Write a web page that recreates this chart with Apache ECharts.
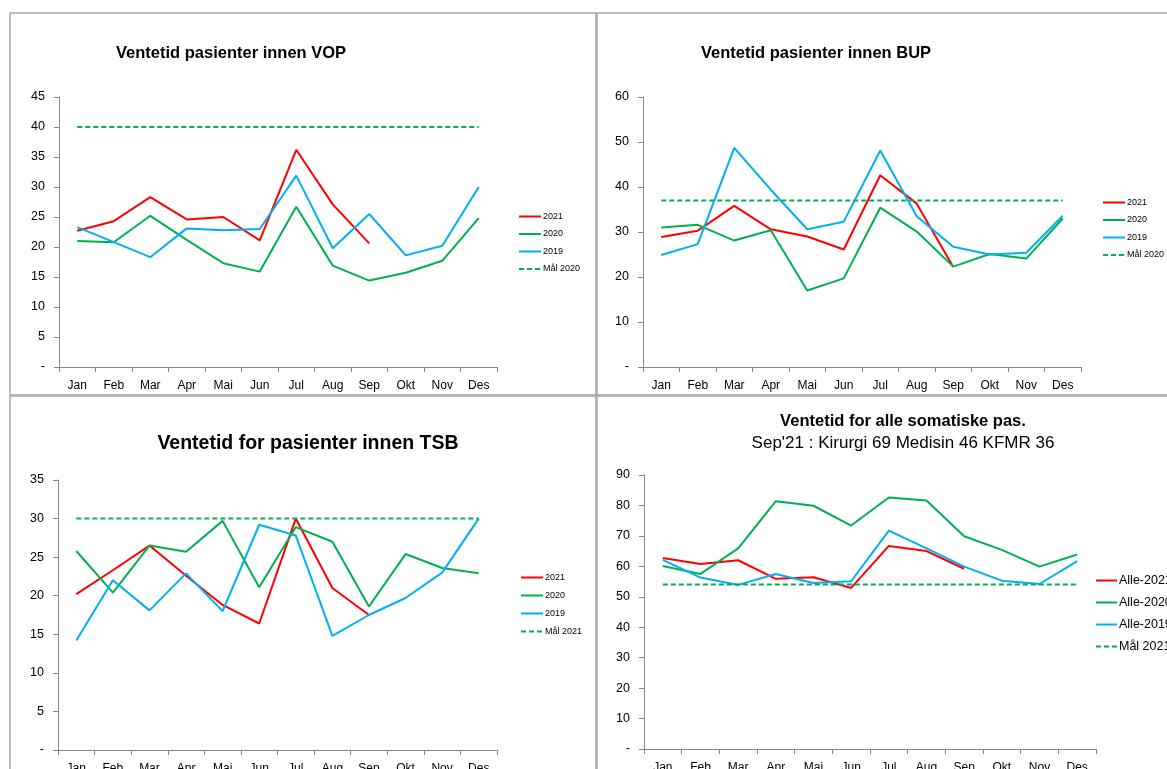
<!DOCTYPE html>
<html>
<head>
<meta charset="utf-8">
<script src="https://cdn.jsdelivr.net/npm/echarts@6/dist/echarts.min.js"></script>
<style>
html,body{margin:0;padding:0;background:#fff;}
#c{width:1167px;height:769px;}
</style>
</head>
<body>
<div id="c"></div>
<script>
// ---------- DATA ----------
const months = ['Jan','Feb','Mar','Apr','Mai','Jun','Jul','Aug','Sep','Okt','Nov','Des'];

// VOP
const vop2021 = [22.7, 24.3, 28.3, 24.6, 25.0, 21.1, 36.2, 27.1, 20.6];
const vop2020 = [21.0, 20.8, 25.2, 21.2, 17.3, 15.9, 26.7, 16.9, 14.4, 15.7, 17.7, 24.8];
const vop2019 = [23.3, 20.8, 18.3, 23.1, 22.8, 23.0, 31.9, 19.8, 25.5, 18.6, 20.2, 30.0];
const vopMaal = [40, 40, 40, 40, 40, 40, 40, 40, 40, 40, 40, 40];

// BUP
const bup2021 = [28.9, 30.3, 35.8, 30.6, 29.0, 26.1, 42.6, 36.3, 22.2];
const bup2020 = [31.0, 31.6, 28.1, 30.4, 17.0, 19.7, 35.4, 30.1, 22.3, 25.1, 24.1, 33.0];
const bup2019 = [24.9, 27.3, 48.7, 39.4, 30.6, 32.3, 48.1, 33.5, 26.7, 25.0, 25.4, 33.6];
const bupMaal = [37, 37, 37, 37, 37, 37, 37, 37, 37, 37, 37, 37];

// TSB
const tsb2021 = [20.2, 23.3, 26.5, 22.6, 18.8, 16.4, 30.0, 21.0, 17.5];
const tsb2020 = [25.8, 20.4, 26.5, 25.7, 29.7, 21.1, 28.9, 27.0, 18.6, 25.4, 23.6, 22.9];
const tsb2019 = [14.2, 22.0, 18.1, 22.9, 18.0, 29.2, 27.8, 14.8, 17.5, 19.7, 23.0, 30.0];
const tsbMaal = [30, 30, 30, 30, 30, 30, 30, 30, 30, 30, 30, 30];

// Alle somatiske
const som2021 = [62.7, 60.8, 62.0, 55.9, 56.4, 52.9, 66.7, 65.0, 59.2];
const som2020 = [60.1, 57.5, 65.9, 81.4, 79.9, 73.4, 82.6, 81.6, 69.9, 65.4, 59.9, 63.9];
const som2019 = [62.1, 56.3, 53.9, 57.5, 54.5, 55.1, 71.7, 65.9, 59.9, 55.3, 54.2, 61.7];
const somMaal = [54, 54, 54, 54, 54, 54, 54, 54, 54, 54, 54, 54];

const titles = ['Ventetid pasienter innen VOP', 'Ventetid pasienter innen BUP', 'Ventetid for pasienter innen TSB', 'Ventetid for alle somatiske pas.'];
const subtitle4 = "Sep'21 : Kirurgi 69 Medisin 46 KFMR 36";

// ---------- STYLE ----------
const RED = '#FF0000', GREEN = '#00B050', BLUE = '#00B0F0';
const FONT = 'Liberation Sans';
const AXC = '#868686';

const grids = [
  {left: 59, top: 97, width: 438, height: 270},
  {left: 643, top: 97, width: 438, height: 270},
  {left: 58, top: 480, width: 439, height: 270},
  {left: 644, top: 475, width: 452, height: 274}
];
const yCfg = [
  {max: 45, interval: 5},
  {max: 60, interval: 10},
  {max: 35, interval: 5},
  {max: 90, interval: 10}
];

function line(name, data, idx, color, dashed) {
  return {
    name: name, type: 'line', data: data, xAxisIndex: idx, yAxisIndex: idx,
    symbol: 'none', showSymbol: false, animation: false, silent: true,
    lineStyle: {color: color, width: 2, type: dashed ? [5, 3] : 'solid'},
    itemStyle: {color: color}
  };
}

const series = [
  line('2021', vop2021, 0, RED), line('2020', vop2020, 0, GREEN), line('2019', vop2019, 0, BLUE), line('Mål 2020', vopMaal, 0, GREEN, true),
  line('2021', bup2021, 1, RED), line('2020', bup2020, 1, GREEN), line('2019', bup2019, 1, BLUE), line('Mål 2020', bupMaal, 1, GREEN, true),
  line('2021', tsb2021, 2, RED), line('2020', tsb2020, 2, GREEN), line('2019', tsb2019, 2, BLUE), line('Mål 2021', tsbMaal, 2, GREEN, true),
  line('Alle-2021', som2021, 3, RED), line('Alle-2020', som2020, 3, GREEN), line('Alle-2019', som2019, 3, BLUE), line('Mål 2021', somMaal, 3, GREEN, true)
];

const xAxes = grids.map((g, i) => ({
  type: 'category', gridIndex: i, data: months, boundaryGap: true,
  axisLine: {lineStyle: {color: AXC, width: 1}},
  axisTick: {show: true, length: 5, lineStyle: {color: AXC}},
  axisLabel: {color: '#000', fontFamily: FONT, fontSize: 12, margin: 13, interval: 0}
}));
const yAxes = grids.map((g, i) => ({
  type: 'value', gridIndex: i, min: 0, max: yCfg[i].max, interval: yCfg[i].interval,
  splitLine: {show: false},
  axisLine: {show: true, lineStyle: {color: AXC, width: 1}},
  axisTick: {show: true, length: 5, lineStyle: {color: AXC}},
  axisLabel: {color: '#000', fontFamily: FONT, fontSize: 12.5, margin: 14,
    formatter: v => v === 0 ? '-' : String(v)}
}));

function legend(names, left, top, fs, gap, iw) {
  return {
    data: names, orient: 'vertical', left: left, top: top,
    itemWidth: iw, itemHeight: 10, itemGap: gap, selectedMode: false,
    itemStyle: {opacity: 0},
    textStyle: {fontFamily: FONT, fontSize: fs, color: '#000', padding: [0, 0, 0, -3]},
    padding: 0
  };
}

const option = {
  animation: false,
  backgroundColor: '#fff',
  grid: grids.map(g => Object.assign({containLabel: false, outerBoundsMode: 'none'}, g)),
  xAxis: xAxes,
  yAxis: yAxes,
  series: series,
  title: [
    {text: titles[0], left: 226, top: 40, textAlign: 'center', textStyle: {fontFamily: FONT, fontSize: 16.5, fontWeight: 'bold', color: '#000'}},
    {text: titles[1], left: 811, top: 40, textAlign: 'center', textStyle: {fontFamily: FONT, fontSize: 16.5, fontWeight: 'bold', color: '#000'}},
    {text: titles[2], left: 303, top: 429, textAlign: 'center', textStyle: {fontFamily: FONT, fontSize: 19.5, fontWeight: 'bold', color: '#000'}},
    {text: titles[3], subtext: subtitle4, left: 898, top: 408, textAlign: 'center', itemGap: 5,
      textStyle: {fontFamily: FONT, fontSize: 16.5, fontWeight: 'bold', color: '#000'},
      subtextStyle: {fontFamily: FONT, fontSize: 17, color: '#000'}}
  ],
  legend: [
    legend(['2021', '2020', '2019', 'Mål 2020'], 518, 212, 9, 8.5, 22),
    legend(['2021', '2020', '2019', 'Mål 2020'], 1102, 198, 9, 8.5, 22),
    legend(['2021', '2020', '2019', 'Mål 2021'], 520, 573, 9, 9, 22),
    legend(['Alle-2021', 'Alle-2020', 'Alle-2019', 'Mål 2021'], 1095, 574, 12.5, 9, 21)
  ],
  graphic: [
    {type: 'rect', shape: {x: 10, y: 13, width: 586, height: 382}, style: {fill: 'none', stroke: '#A6A6A6', lineWidth: 1.5}, silent: true},
    {type: 'rect', shape: {x: 597, y: 13, width: 600, height: 382}, style: {fill: 'none', stroke: '#A6A6A6', lineWidth: 1.5}, silent: true},
    {type: 'rect', shape: {x: 10, y: 396, width: 586, height: 400}, style: {fill: 'none', stroke: '#A6A6A6', lineWidth: 1.5}, silent: true},
    {type: 'rect', shape: {x: 597, y: 396, width: 600, height: 400}, style: {fill: 'none', stroke: '#A6A6A6', lineWidth: 1.5}, silent: true}
  ]
};

const chart = echarts.init(document.getElementById('c'), null, {renderer: 'canvas'});
chart.setOption(option);
</script>
</body>
</html>
